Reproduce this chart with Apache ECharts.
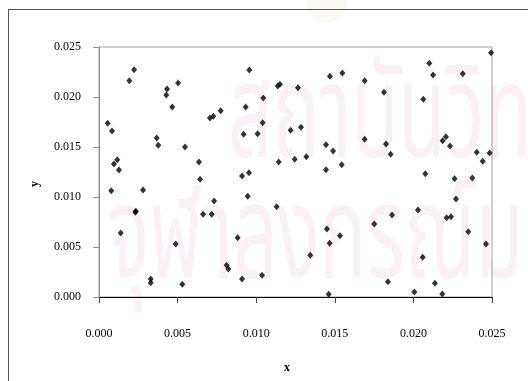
<!DOCTYPE html>
<html>
<head>
<meta charset="utf-8">
<script src="https://cdn.jsdelivr.net/npm/echarts@6/dist/echarts.min.js"></script>
<style>
html,body{margin:0;padding:0;background:#fff;}
#chart{width:528px;height:381px;}
</style>
</head>
<body>
<div id="chart"></div>
<script>
// Data
var xValues = [0.00223,0.00193,0.00433,0.00428,0.00503,0.00466,0.00774,0.00727,0.00706,0.00055,
0.00083,0.00367,0.00377,0.00547,0.00636,0.00116,0.00095,0.00127,0.00078,0.0028,
0.00643,0.00732,0.00662,0.00717,0.00235,0.00231,0.00138,0.00488,0.00329,0.00329,
0.0053,0.00812,0.00823,0.00956,0.00933,0.01045,0.01137,0.01151,0.01266,0.01469,
0.01548,0.01041,0.0092,0.01009,0.01219,0.01285,0.01444,0.01489,0.01143,0.01245,
0.01319,0.01444,0.01544,0.0091,0.00954,0.00946,0.0113,0.00882,0.0091,0.01037,
0.01344,0.0145,0.01467,0.01533,0.01461,0.0169,0.02101,0.02125,0.02314,0.02494,
0.01813,0.02063,0.0169,0.01826,0.01855,0.02186,0.02207,0.02233,0.02403,0.02441,
0.02485,0.02076,0.02262,0.02375,0.02271,0.01751,0.01864,0.02029,0.02211,0.02239,
0.02349,0.02462,0.02059,0.01838,0.02137,0.02006,0.02184];
var yValues = [0.02273,0.02163,0.0208,0.0202,0.0214,0.019,0.01863,0.01807,0.0179,0.01737,
0.0166,0.0159,0.01517,0.015,0.0135,0.01373,0.0133,0.0127,0.01063,0.0107,
0.01177,0.0096,0.00827,0.00827,0.00857,0.00847,0.0064,0.0053,0.0018,0.00143,
0.00127,0.00317,0.0028,0.0227,0.019,0.0199,0.0211,0.02127,0.02093,0.02207,
0.0224,0.01743,0.01627,0.01633,0.01667,0.01697,0.01523,0.0146,0.0135,0.01377,
0.01403,0.01273,0.01323,0.0121,0.01243,0.01007,0.00903,0.00593,0.0018,0.00217,
0.00417,0.0068,0.00537,0.00613,0.00027,0.02163,0.02337,0.0222,0.02233,0.02443,
0.02047,0.01977,0.01577,0.0153,0.01427,0.01563,0.01603,0.0151,0.01447,0.01357,
0.0144,0.01233,0.01183,0.0119,0.0098,0.0073,0.0082,0.0087,0.00793,0.00803,
0.00653,0.0053,0.00397,0.00153,0.00137,0.0005,0.0003];
var axisMin = 0, axisMax = 0.025, axisStep = 0.005;
var xName = 'x', yName = 'y';
var watermarkTop = 'สถาบันวิทยบริการ';
var watermarkBottom = 'จุฬาลงกรณ์มหาวิทยาลัย';

var points = xValues.map(function(v, i){ return [v, yValues[i]]; });
var serif = '"Liberation Serif","Times New Roman",serif';

var chart = echarts.init(document.getElementById('chart'), null, {renderer:'canvas'});
chart.setOption({
  animation: false,
  backgroundColor: '#fff',
  grid: {left: 99, top: 47, width: 393, height: 250, show: true, borderColor: '#a0a0a0', borderWidth: 1, backgroundColor: 'transparent'},
  xAxis: {
    type: 'value', min: axisMin, max: axisMax, interval: axisStep,
    axisLine: {show: true, onZero: false, lineStyle: {color: '#000', width: 1}},
    axisTick: {show: true, inside: false, length: 6, lineStyle: {color: '#444'}},
    axisLabel: {color: '#000', fontFamily: serif, fontSize: 12, margin: 31,
      formatter: function(v){ return v.toFixed(3); }},
    splitLine: {show: false}
  },
  yAxis: {
    type: 'value', min: axisMin, max: axisMax, interval: axisStep,
    axisLine: {show: true, onZero: false, lineStyle: {color: '#909090', width: 1}},
    axisTick: {show: true, inside: false, length: 6, lineStyle: {color: '#909090'}},
    axisLabel: {color: '#000', fontFamily: serif, fontSize: 12, margin: 18,
      formatter: function(v){ return v.toFixed(3); }},
    splitLine: {show: false}
  },
  graphic: [
    {type: 'circle', z: -10, shape: {cx: 327, cy: 2, r: 20}, style: {fill: '#f9f8f5'}},
    {type: 'text', z: -10, x: 228, y: 66, scaleX: 0.6, style: {text: watermarkTop, fill: '#faf1f7', font: '130px "Noto Sans Thai", sans-serif', verticalAlign: 'top'}},
    {type: 'text', z: -10, x: 108, y: 187, scaleX: 0.6, style: {text: watermarkBottom, fill: '#faf1f7', font: '130px "Noto Sans Thai", sans-serif', verticalAlign: 'top'}},
    {type: 'line', z: 10, shape: {x1: 8, y1: 9.5, x2: 528, y2: 9.5}, style: {stroke: '#555', lineWidth: 1}},
    {type: 'line', z: 10, shape: {x1: 8.5, y1: 9, x2: 8.5, y2: 381}, style: {stroke: '#555', lineWidth: 1}},
    {type: 'text', z: 10, x: 287, y: 368, style: {text: xName, fill: '#000', font: 'bold 12px ' + serif, align: 'center', verticalAlign: 'middle'}},
    {type: 'text', z: 10, x: 35, y: 184, rotation: Math.PI/2, style: {text: yName, fill: '#000', font: 'bold 12px ' + serif, align: 'center', verticalAlign: 'middle'}}
  ],
  series: [{
    type: 'scatter',
    data: points,
    symbol: 'diamond',
    symbolSize: [6, 7],
    itemStyle: {color: '#000'},
    z: 5
  }]
});
</script>
</body>
</html>
